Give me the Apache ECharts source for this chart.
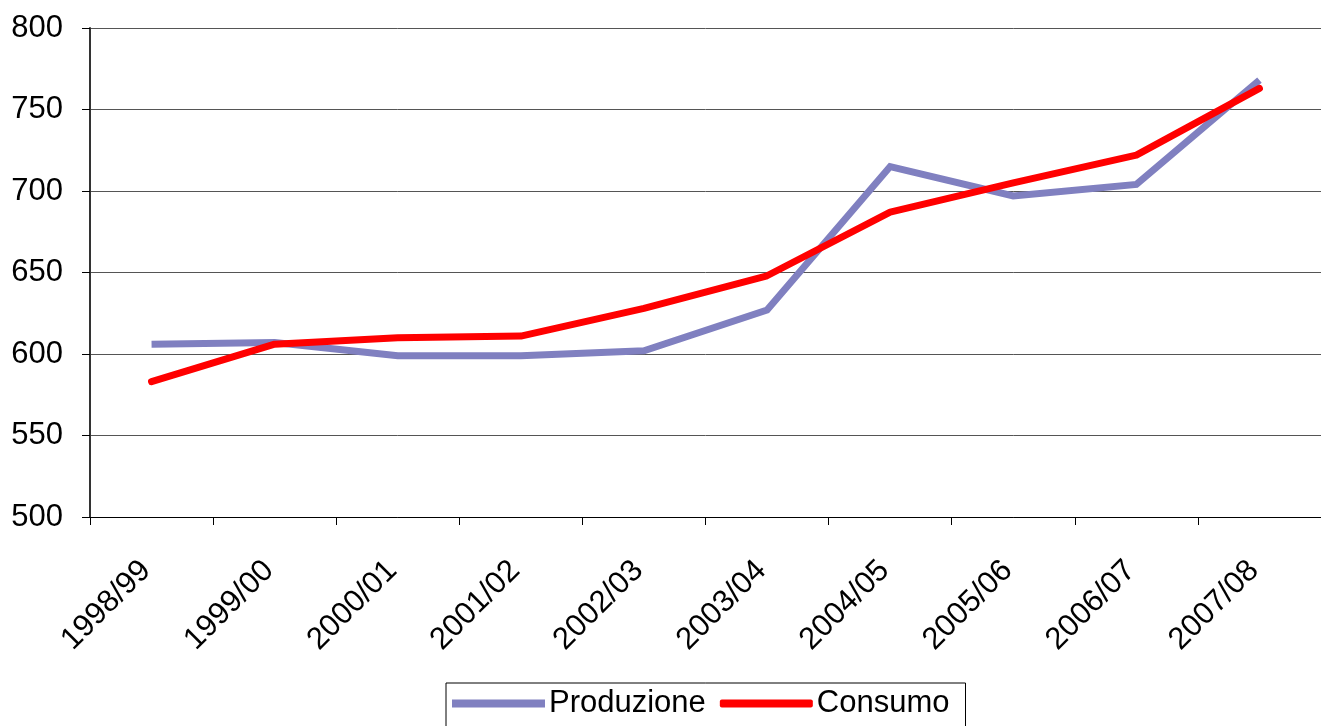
<!DOCTYPE html>
<html>
<head>
<meta charset="utf-8">
<script src="https://cdn.jsdelivr.net/npm/echarts@6/dist/echarts.min.js"></script>
<style>
  html, body { margin: 0; padding: 0; background: #fff; }
  #chart { width: 1321px; height: 726px; }
</style>
</head>
<body>
<div id="chart"></div>
<script>
// Annual seasons on the category axis
const categories = ['1998/99', '1999/00', '2000/01', '2001/02', '2002/03',
                    '2003/04', '2004/05', '2005/06', '2006/07', '2007/08'];
// Production and consumption per season
const produzione = [606, 607, 599, 599, 602, 627, 715, 697, 704, 768];
const consumo    = [583, 606, 610, 611, 628, 648, 687, 705, 722, 763];

const FONT = 'Liberation Sans, Arial, sans-serif';
const chart = echarts.init(document.getElementById('chart'), null, { renderer: 'canvas' });

chart.setOption({
  animation: false,
  backgroundColor: '#ffffff',
  grid: { left: 90, top: 28, right: -9, bottom: 209, containLabel: false },
  legend: {
    left: 446,
    top: 683,
    padding: [5, 16, 12, 6],
    itemGap: 14,
    itemWidth: 93,
    itemHeight: 8,
    borderColor: '#000',
    borderWidth: 1,
    textStyle: { fontFamily: FONT, fontSize: 31, color: '#000', padding: [0, 0, 0, -1] },
    data: [
      { name: 'Produzione', icon: 'rect' },
      { name: 'Consumo', icon: 'roundRect' }
    ]
  },
  xAxis: {
    type: 'category',
    data: categories,
    boundaryGap: true,
    axisLine: { lineStyle: { color: '#000', width: 1 } },
    axisTick: { show: true, alignWithLabel: false, length: 8, lineStyle: { color: '#000' } },
    axisLabel: {
      rotate: 45, margin: 43, padding: [0, 8, 0, 0],
      fontFamily: FONT, fontSize: 31, color: '#000'
    },
    splitLine: { show: false }
  },
  yAxis: {
    type: 'value',
    min: 500,
    max: 800,
    interval: 50,
    axisLine: { show: true, lineStyle: { color: '#333', width: 2 } },
    axisTick: { show: true, length: 8, lineStyle: { color: '#000' } },
    axisLabel: { margin: 27, fontFamily: FONT, fontSize: 31, color: '#000' },
    splitLine: { show: true, lineStyle: { color: '#555', width: 1 } }
  },
  series: [
    {
      name: 'Produzione',
      type: 'line',
      data: produzione,
      symbol: 'none',
      itemStyle: { color: '#8080c0' },
      lineStyle: { color: '#8080c0', width: 7, cap: 'butt', join: 'miter' }
    },
    {
      name: 'Consumo',
      type: 'line',
      data: consumo,
      symbol: 'none',
      itemStyle: { color: '#ff0000' },
      lineStyle: { color: '#ff0000', width: 7, cap: 'round', join: 'round' }
    }
  ]
});
</script>
</body>
</html>
